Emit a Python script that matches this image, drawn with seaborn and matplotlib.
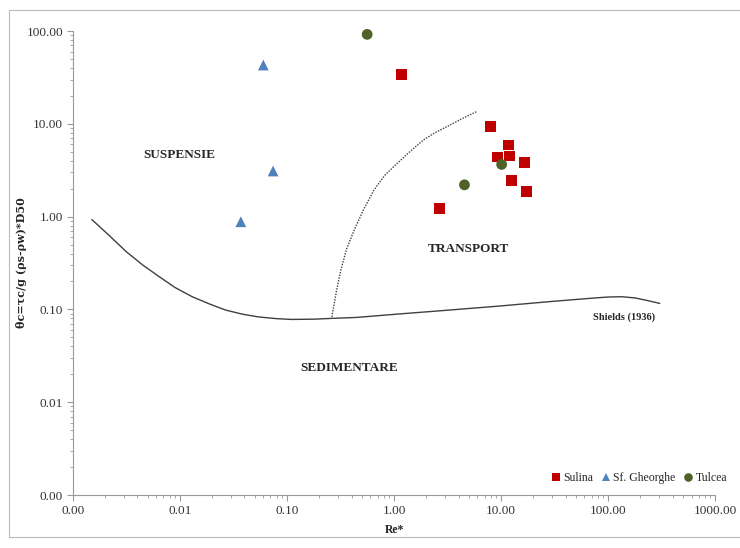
import numpy as np
import pandas as pd
import matplotlib
matplotlib.use("Agg")
import matplotlib.pyplot as plt
import matplotlib.ticker as mticker
import seaborn as sns

# Measured points
sulina_re = [1.17, 7.9, 11.7, 9.2, 11.9, 16.4, 12.4, 17.3, 2.65]
sulina_theta = [34.0, 9.3, 5.9, 4.4, 4.5, 3.85, 2.45, 1.85, 1.22]
gheorghe_re = [0.060, 0.074, 0.037]
gheorghe_theta = [43.0, 3.1, 0.88]
tulcea_re = [0.56, 4.54, 10.1]
tulcea_theta = [92.0, 2.2, 3.65]

# Shields (1936) curve
shields_re = [0.0015, 0.0022, 0.00314, 0.0045, 0.0064, 0.009, 0.013, 0.019, 0.0265,
              0.038, 0.054, 0.08, 0.11, 0.18, 0.257, 0.45, 1.07, 2.5, 9.0, 30,
              75.8, 100, 134, 178, 230, 303]
shields_theta = [0.93, 0.62, 0.42, 0.30, 0.225, 0.172, 0.137, 0.114, 0.0986,
                 0.089, 0.083, 0.0795, 0.078, 0.0785, 0.080, 0.082, 0.089, 0.096,
                 0.108, 0.122, 0.133, 0.136, 0.137, 0.133, 0.125, 0.116]

# suspension limit curve
susp_re = [0.262, 0.29, 0.318, 0.36, 0.424, 0.52, 0.649, 0.82, 1.07, 1.4, 1.88,
           2.4, 3.1, 4.2, 5.87]
susp_theta = [0.083, 0.16, 0.266, 0.45, 0.72, 1.2, 1.94, 2.8, 3.75, 5.0, 6.7,
              8.0, 9.3, 11.2, 13.5]

stations = ["Sulina", "Sf. Gheorghe", "Tulcea"]
df = pd.DataFrame({
    "Re": sulina_re + gheorghe_re + tulcea_re,
    "theta": sulina_theta + gheorghe_theta + tulcea_theta,
    "Statie": ["Sulina"] * len(sulina_re) + ["Sf. Gheorghe"] * len(gheorghe_re)
              + ["Tulcea"] * len(tulcea_re),
})

sns.set_style("white")
plt.rcParams['font.family'] = ['Liberation Serif', 'DejaVu Serif']

fig = plt.figure(figsize=(7.4, 5.48), dpi=100)
ax = fig.add_axes([0.0986, 0.0967, 0.868, 0.8467])

sns.lineplot(x=shields_re, y=shields_theta, sort=False, estimator=None,
             color='#404040', linewidth=1.0, ax=ax)
sns.lineplot(x=susp_re, y=susp_theta, sort=False, estimator=None,
             color='#404040', linewidth=1.0, linestyle=(0, (1, 1)), ax=ax)

palette = {"Sulina": "#C00000", "Sf. Gheorghe": "#4F81BD", "Tulcea": "#4F6228"}
markers = {"Sulina": "s", "Sf. Gheorghe": "^", "Tulcea": "o"}
sns.scatterplot(data=df, x="Re", y="theta", hue="Statie", style="Statie",
                hue_order=stations, style_order=stations,
                palette=palette, markers=markers, s=60, linewidth=0,
                clip_on=False, zorder=5, ax=ax)

ax.set_xscale('log')
ax.set_yscale('log')
ax.set_xlim(0.001, 1000)
ax.set_ylim(0.001, 100)

fmt = mticker.FuncFormatter(lambda v, p: f"{v:.2f}")
ax.xaxis.set_major_formatter(fmt)
ax.yaxis.set_major_formatter(fmt)
ax.xaxis.set_major_locator(mticker.LogLocator(base=10, numticks=10))
ax.yaxis.set_major_locator(mticker.LogLocator(base=10, numticks=10))
ax.xaxis.set_minor_locator(mticker.LogLocator(base=10, subs=np.arange(2, 10), numticks=20))
ax.yaxis.set_minor_locator(mticker.LogLocator(base=10, subs=np.arange(2, 10), numticks=20))
ax.xaxis.set_minor_formatter(mticker.NullFormatter())
ax.yaxis.set_minor_formatter(mticker.NullFormatter())

ax.tick_params(axis='both', which='major', direction='out', length=4, width=0.8,
               color='#999999', labelsize=9.5, pad=3, bottom=True, left=True,
               labelcolor='#333333')
ax.tick_params(axis='both', which='minor', direction='out', length=2, width=0.6,
               color='#999999', bottom=True, left=True)

for side in ['top', 'right']:
    ax.spines[side].set_visible(False)
for side in ['left', 'bottom']:
    ax.spines[side].set_color('#999999')
    ax.spines[side].set_linewidth(0.8)

ax.set_xlabel("Re*", fontsize=8.5, fontweight='bold')
ax.set_ylabel("θc=τc/g (ρs-ρw)*D50", fontsize=8, fontweight='bold',
              family=['DejaVu Serif'])
ax.xaxis.set_label_coords(0.5, -0.062)
ax.yaxis.set_label_coords(-0.072, 0.5)

ax.text(0.0098, 4.6, "SUSPENSIE", fontsize=9.5, fontweight='bold', ha='center', va='center')
ax.text(5.0, 0.45, "TRANSPORT", fontsize=9.5, fontweight='bold', ha='center', va='center')
ax.text(0.38, 0.0234, "SEDIMENTARE", fontsize=9.5, fontweight='bold', ha='center', va='center')
ax.text(141, 0.083, "Shields (1936)", fontsize=7.5, fontweight='bold', ha='center', va='center')

leg = ax.legend(loc='lower right', bbox_to_anchor=(1.035, 0.0), ncol=3, frameon=False,
                fontsize=8.5, handletextpad=0.0, columnspacing=0.5, handlelength=1.2,
                markerscale=0.8, title=None)

fig.patches.append(plt.Rectangle((0.012, 0.02), 0.99, 0.962, transform=fig.transFigure,
                                 fill=False, edgecolor='#bbbbbb', linewidth=0.8))

fig.savefig("out.png", dpi=100)
